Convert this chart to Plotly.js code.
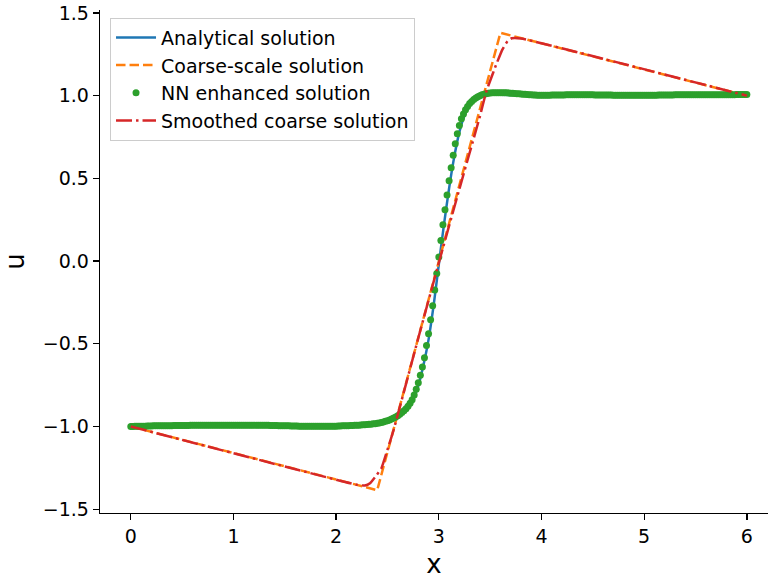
<!DOCTYPE html>
<html>
<head>
<meta charset="utf-8">
<script src="https://cdn.plot.ly/plotly-3.0.1.min.js"></script>
<style>
  html, body { margin: 0; padding: 0; background: #ffffff; overflow: hidden; }
  #chart { width: 768px; height: 579px; }
</style>
</head>
<body>
<div id="chart"></div>
<script>
// Analytical solution (smooth shock profile)
const analyticalX = [0, 1, 2, 2.2, 2.4, 2.5, 2.6, 2.7, 2.75, 2.8, 2.85, 2.9, 2.95, 3.0, 3.05,
  3.1, 3.15, 3.2, 3.25, 3.3, 3.35, 3.4, 3.5, 3.6, 4, 5, 6];
const analyticalU = [-1.0, -1.0, -1.0, -0.995, -0.984, -0.968, -0.938, -0.885, -0.835, -0.755,
  -0.63, -0.475, -0.265, -0.02, 0.22, 0.44, 0.63, 0.78, 0.88, 0.94, 0.975, 0.995, 1.005, 1.005,
  1.0, 1.0, 1.0];

// Coarse-scale solution (piecewise linear)
const coarseX = [0, 2.4, 3.6, 6];
const coarseU = [-1.0, -1.385, 1.38, 1.0];

// Smoothed coarse solution
const smoothX = [0, 2.2, 2.28, 2.33, 2.38, 2.44, 2.5, 2.56, 2.8, 3.0, 3.2, 3.4, 3.46, 3.5,
  3.56, 3.62, 3.67, 3.71, 3.8, 6];
const smoothU = [-1.0, -1.352, -1.357, -1.343, -1.305, -1.254, -1.14, -1.02, -0.465, -0.01,
  0.435, 0.875, 1.02, 1.09, 1.19, 1.28, 1.33, 1.347, 1.346, 1.0];

// NN enhanced solution, sampled on the uniform fine grid x = 0, 0.02, ..., 6
const nnStart = 0;
const nnStep = 0.02;
const nnU = [
  -1.000,-1.000,-0.999,-0.999,-0.999,-0.998,-0.998,-0.998,-0.997,-0.997,
  -0.997,-0.996,-0.996,-0.996,-0.996,-0.995,-0.995,-0.995,-0.995,-0.995,
  -0.995,-0.994,-0.994,-0.994,-0.994,-0.994,-0.994,-0.994,-0.994,-0.993,
  -0.993,-0.993,-0.993,-0.993,-0.993,-0.993,-0.993,-0.993,-0.993,-0.993,
  -0.993,-0.993,-0.993,-0.992,-0.992,-0.992,-0.992,-0.992,-0.992,-0.992,
  -0.992,-0.992,-0.992,-0.992,-0.992,-0.992,-0.992,-0.992,-0.992,-0.992,
  -0.992,-0.992,-0.992,-0.993,-0.993,-0.993,-0.993,-0.993,-0.994,-0.994,
  -0.994,-0.994,-0.995,-0.995,-0.995,-0.996,-0.996,-0.996,-0.997,-0.997,
  -0.997,-0.997,-0.998,-0.998,-0.998,-0.998,-0.998,-0.999,-0.999,-0.999,
  -0.999,-0.999,-0.999,-0.999,-0.999,-0.999,-0.999,-0.999,-0.998,-0.998,
  -0.998,-0.997,-0.997,-0.996,-0.996,-0.995,-0.995,-0.994,-0.994,-0.993,
  -0.993,-0.992,-0.991,-0.990,-0.989,-0.988,-0.987,-0.986,-0.984,-0.983,
  -0.981,-0.979,-0.976,-0.973,-0.969,-0.965,-0.960,-0.955,-0.949,-0.942,
  -0.935,-0.926,-0.916,-0.905,-0.893,-0.878,-0.860,-0.838,-0.810,-0.775,
  -0.735,-0.690,-0.640,-0.585,-0.510,-0.440,-0.355,-0.270,-0.175,-0.075,
   0.025, 0.125, 0.220, 0.310, 0.400, 0.485, 0.565, 0.640, 0.710, 0.770,
   0.820, 0.860, 0.890, 0.915, 0.935, 0.952, 0.965, 0.977, 0.986, 0.994,
   1.000, 1.005, 1.009, 1.012, 1.014, 1.016, 1.017, 1.018, 1.018, 1.018,
   1.018, 1.018, 1.017, 1.017, 1.016, 1.015, 1.014, 1.013, 1.012, 1.011,
   1.010, 1.009, 1.008, 1.007, 1.006, 1.005, 1.004, 1.004, 1.003, 1.003,
   1.003, 1.003, 1.003, 1.003, 1.003, 1.004, 1.004, 1.004, 1.004, 1.004,
   1.004, 1.004, 1.005, 1.005, 1.005, 1.005, 1.005, 1.005, 1.005, 1.005,
   1.005, 1.005, 1.005, 1.005, 1.005, 1.005, 1.004, 1.004, 1.004, 1.004,
   1.004, 1.004, 1.004, 1.004, 1.004, 1.003, 1.003, 1.003, 1.003, 1.003,
   1.003, 1.003, 1.003, 1.003, 1.003, 1.003, 1.003, 1.003, 1.003, 1.003,
   1.003, 1.003, 1.003, 1.003, 1.003, 1.003, 1.003, 1.004, 1.004, 1.004,
   1.004, 1.004, 1.004, 1.004, 1.004, 1.005, 1.005, 1.005, 1.005, 1.005,
   1.005, 1.005, 1.005, 1.005, 1.005, 1.005, 1.005, 1.005, 1.005, 1.006,
   1.006, 1.006, 1.006, 1.006, 1.006, 1.006, 1.006, 1.006, 1.006, 1.006,
   1.006, 1.006, 1.006, 1.006, 1.006, 1.007, 1.007, 1.007, 1.007, 1.007,
   1.007
];

const xTicks = [0, 1, 2, 3, 4, 5, 6];
const yTicks = [-1.5, -1.0, -0.5, 0.0, 0.5, 1.0, 1.5];

const FONT = 'DejaVu Sans, sans-serif';

const traces = [
  {
    name: 'Analytical solution', x: analyticalX, y: analyticalU, type: 'scatter', mode: 'lines',
    line: { color: '#1f77b4', width: 2.5, shape: 'spline', smoothing: 0.6 }
  },
  {
    name: 'Coarse-scale solution', x: coarseX, y: coarseU, type: 'scatter', mode: 'lines',
    line: { color: '#ff7f0e', width: 2.5, dash: '9.5px,4px' }
  },
  {
    name: 'NN enhanced solution', x0: nnStart, dx: nnStep, y: nnU, type: 'scatter', mode: 'markers',
    marker: { color: '#2ca02c', size: 7, line: { width: 0 } }
  },
  {
    name: 'Smoothed coarse solution', x: smoothX, y: smoothU, type: 'scatter', mode: 'lines',
    line: { color: '#d62728', width: 2.5, dash: '16px,4px,2.5px,4px', shape: 'spline', smoothing: 0.35 }
  }
];

const axisCommon = {
  showgrid: false, zeroline: false, showline: true, linecolor: '#000000', linewidth: 1.33,
  ticks: 'outside', ticklen: 6, tickwidth: 1.33, tickcolor: '#000000',
  tickfont: { family: FONT, size: 19, color: '#000000' }, mirror: false
};

const layout = {
  width: 768, height: 579,
  margin: { l: 100, r: 0, t: 10, b: 66, pad: 0 },
  paper_bgcolor: '#ffffff', plot_bgcolor: '#ffffff',
  font: { family: FONT, color: '#000000' },
  showlegend: true,
  legend: {
    x: 0.015, y: 0.985, xanchor: 'left', yanchor: 'top',
    bgcolor: 'rgba(255,255,255,0.8)', bordercolor: '#cccccc', borderwidth: 1,
    font: { family: FONT, size: 19, color: '#000000' },
    traceorder: 'normal', itemwidth: 40
  },
  xaxis: Object.assign({}, axisCommon, {
    range: [-0.3, 6.206], tickvals: xTicks, ticktext: xTicks.map(String),
    title: { text: 'x', font: { family: FONT, size: 26, color: '#000000' }, standoff: 8 }
  }),
  yaxis: Object.assign({}, axisCommon, {
    range: [-1.523, 1.518], tickvals: yTicks, tickformat: '.1f',
    title: { text: 'u', font: { family: FONT, size: 26, color: '#000000' }, standoff: 12 }
  })
};

Plotly.newPlot('chart', traces, layout, { displayModeBar: false, staticPlot: true });
</script>
</body>
</html>
